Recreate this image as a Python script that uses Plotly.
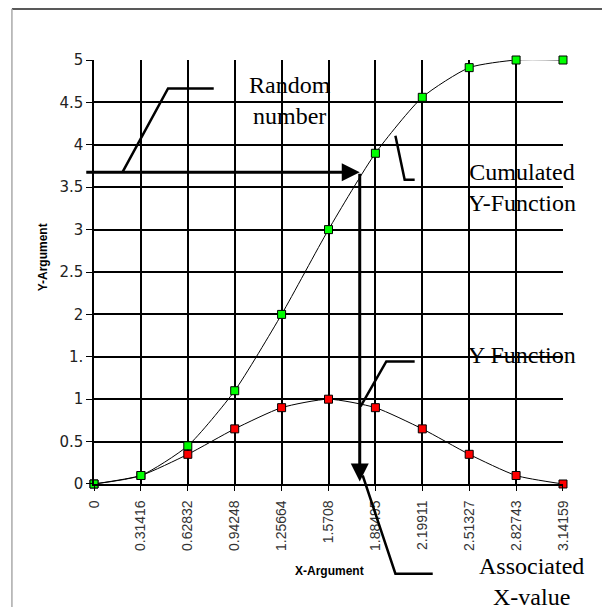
import plotly.graph_objects as go

# data
x_vals = [0, 0.31416, 0.62832, 0.94248, 1.25664, 1.5708, 1.88495, 2.19911, 2.51327, 2.82743, 3.14159]
x_labels = ["0", "0.31416", "0.62832", "0.94248", "1.25664", "1.5708", "1.88495", "2.19911", "2.51327", "2.82743", "3.14159"]
y_function = [0, 0.1, 0.35, 0.65, 0.9, 1.0, 0.9, 0.65, 0.35, 0.1, 0]
y_cumulated = [0, 0.1, 0.45, 1.1, 2.0, 3.0, 3.9, 4.56, 4.91, 5.0, 5.0]
y_ticks = [0, 0.5, 1, 1.5, 2, 2.5, 3, 3.5, 4, 4.5, 5]
y_ticktext = ["0", "0.5", "1", "1.", "2", "2.5", "3", "3.5", "4", "4.5", "5"]

random_number = 3.675
associated_x = 1.78

X0, X1 = 0, 3.14159
Y0, Y1 = 0, 5


def to_paper(x, y):
    return (x - X0) / (X1 - X0), (y - Y0) / (Y1 - Y0)


def leader(points, width=2.5):
    pts = [to_paper(x, y) for x, y in points]
    path = "M " + " L ".join(f"{px},{py}" for px, py in pts)
    return dict(type="path", xref="paper", yref="paper", path=path,
                line=dict(color="black", width=width))


def label(x, y, text, size=24, family="Liberation Serif, Times New Roman, serif", **kw):
    px, py = to_paper(x, y)
    return dict(x=px, y=py, xref="paper", yref="paper", text=text, showarrow=False,
                xanchor="center", yanchor="middle",
                font=dict(family=family, size=size, color="black"), **kw)


fig = go.Figure()

fig.add_trace(go.Scatter(
    x=x_vals, y=y_function, mode="lines+markers", name="Y Function",
    line=dict(color="black", width=1, shape="spline", smoothing=0.6),
    marker=dict(symbol="square", size=8, color="#ff0000", line=dict(color="black", width=1)),
    cliponaxis=False))

fig.add_trace(go.Scatter(
    x=x_vals, y=y_cumulated, mode="lines+markers", name="Cumulated Y-Function",
    line=dict(color="black", width=1, shape="spline", smoothing=0.6),
    marker=dict(symbol="square", size=8, color="#00ff00", line=dict(color="black", width=1)),
    cliponaxis=False))

sans = "Liberation Sans, Arial, sans-serif"

shapes = [
    # frame of the scanned page
    dict(type="line", xref="paper", yref="paper", x0=-0.175, x1=1.1, y0=1.1205, y1=1.1205,
         line=dict(color="#222", width=1.5)),
    dict(type="line", xref="paper", yref="paper", x0=-0.175, x1=-0.175, y0=1.1205, y1=-0.3,
         line=dict(color="#aaa", width=1.5)),
    # leader lines
    leader([(0.19, random_number), (0.496, 4.665), (0.802, 4.665)]),
    leader([(2.019, 4.107), (2.081, 3.588), (2.148, 3.588)]),
    leader([(1.786, 0.915), (1.958, 1.446), (2.148, 1.446)]),
    leader([(1.80, 0.10), (2.019, -1.057), (2.269, -1.057)]),
]

annotations = [
    # arrows: random number -> curve -> associated x
    dict(x=associated_x, y=random_number, ax=-0.062, ay=random_number, xref="x", yref="y",
         axref="x", ayref="y", text="", showarrow=True, arrowhead=2, arrowsize=1.2,
         arrowwidth=3, arrowcolor="black"),
    dict(x=associated_x, y=0.03, ax=associated_x, ay=random_number, xref="x", yref="y",
         axref="x", ayref="y", text="", showarrow=True, arrowhead=2, arrowsize=1.2,
         arrowwidth=3, arrowcolor="black"),
    label(1.311, 4.52, "Random<br>number"),
    label(2.865, 3.494, "Cumulated<br>Y-Function"),
    label(2.865, 1.527, "Y Function"),
    label(2.932, -1.152, "Associated<br>X-value"),
    # axis titles
    label(-0.344, 2.669, "<b>Y-Argument</b>", size=12, family=sans, textangle=-90),
    label(1.578, -1.03, "<b>X-Argument</b>", size=12, family=sans),
]

# the page body adds an 8px margin, so the figure is drawn 8px smaller and offset
fig.update_layout(
    width=602, height=599,
    margin=dict(l=86, r=47, t=52, b=123),
    paper_bgcolor="white", plot_bgcolor="white",
    showlegend=False,
    shapes=shapes,
    annotations=annotations,
)

fig.update_xaxes(
    range=[X0 - 0.0001, X1 + 0.0001], tickvals=x_vals, ticktext=x_labels, tickangle=-90,
    tickfont=dict(family="Liberation Sans Narrow, Arial Narrow, sans-serif", size=14, color="#333"),
    ticklabelstandoff=4,
    showgrid=True, gridcolor="black", gridwidth=2,
    showline=True, linecolor="black", linewidth=1.5,
    ticks="outside", ticklen=5, tickcolor="black", zeroline=False,
)
fig.update_yaxes(
    range=[Y0 - 0.0001, Y1 + 0.0001], tickvals=y_ticks, ticktext=y_ticktext,
    tickfont=dict(family="DejaVu Sans, sans-serif", size=15, color="#222"),
    showgrid=True, gridcolor="black", gridwidth=2,
    showline=True, linecolor="black", linewidth=1.5,
    ticks="outside", ticklen=6, tickcolor="black", zeroline=False,
)

fig.write_html("out.html")
